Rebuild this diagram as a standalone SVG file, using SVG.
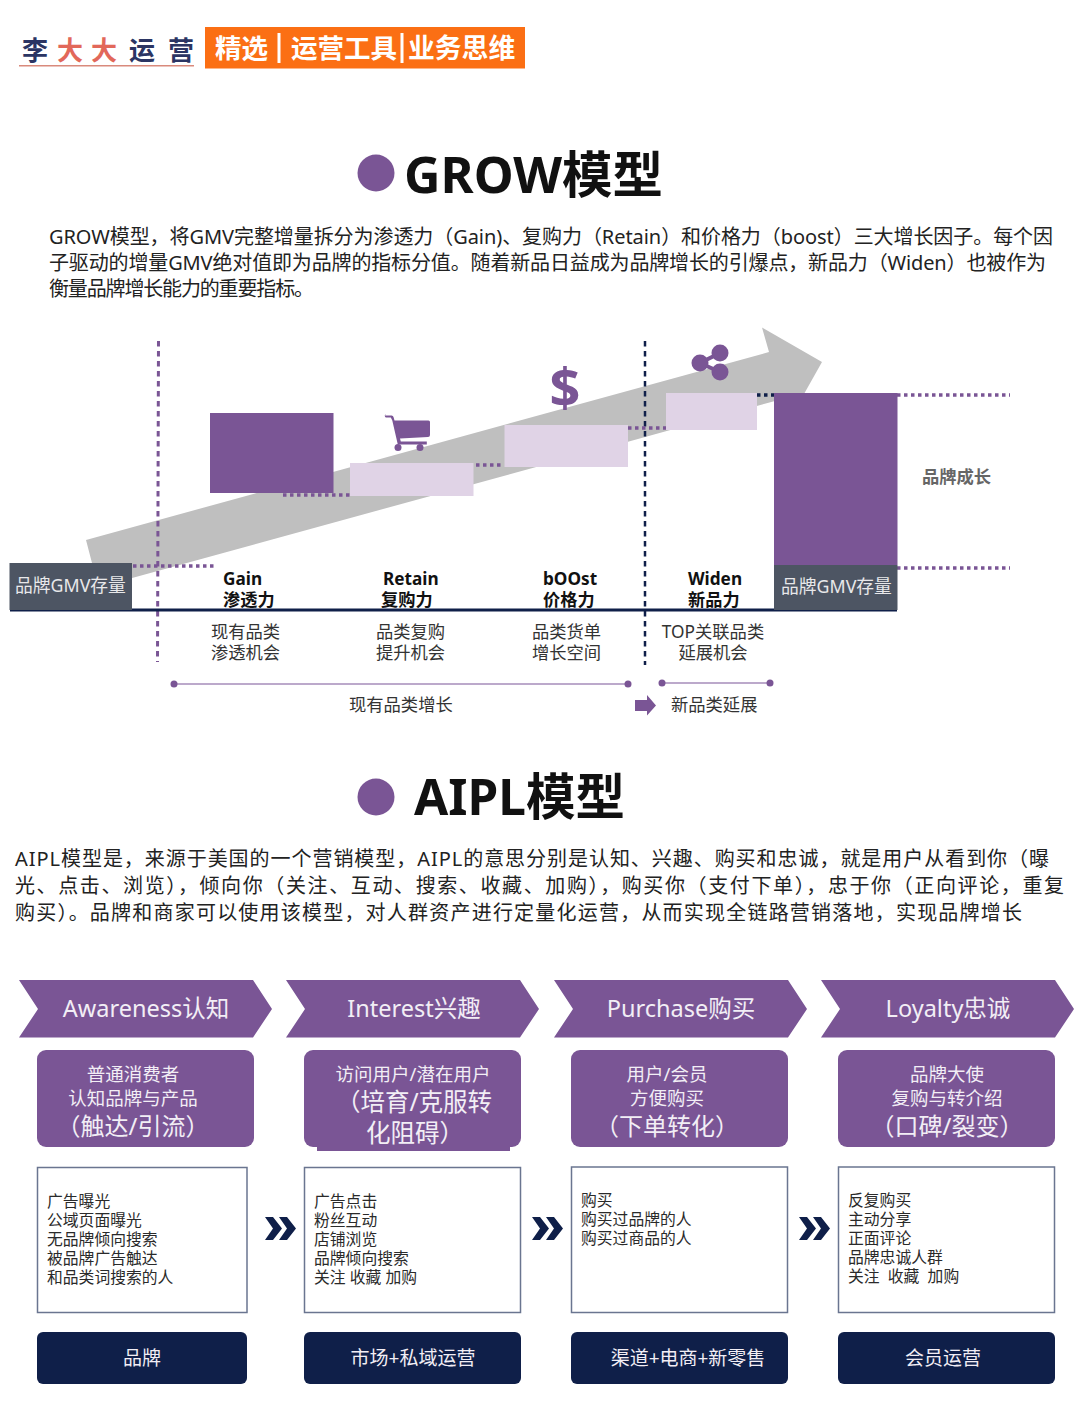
<svg xmlns="http://www.w3.org/2000/svg" width="1080" height="1426" viewBox="0 0 1080 1426">
<style>
text{font-family:"Noto Sans","Noto Sans CJK SC",sans-serif;fill:#222}
.body{font-size:20px;fill:#222}
.title{font-weight:700;fill:#111}
.dim{font-size:17.3px;fill:#333}
.bold{font-size:17.2px;font-weight:700;fill:#111}
.wh{fill:#f2eef5}
.c{text-anchor:middle}
.item{font-size:15.8px;fill:#2a2a2a}
.pu{fill:#7a5595}
.li{fill:#e0d3e6}
.navy{fill:#0f1f49}
.dot{fill:none;stroke:#7a5595;stroke-width:3.5;stroke-dasharray:3.5 3.5}
.dv{fill:none;stroke:#7a5595;stroke-width:3;stroke-dasharray:5.5 4.5}
.dn{fill:none;stroke:#0f1f49;stroke-width:2.5;stroke-dasharray:5.5 4.5}
.wb{fill:#fff;stroke:#6a7590;stroke-width:1.5}
.l1{font-size:18.5px}
.l3{font-size:24px}
.nv{font-size:19px}
.ch{font-size:23.500px}
</style>
<defs>
<polygon id="chev" points="0,0 234,0 253,29 234,57.5 0,57.5 19,29"/>
<g id="dbl"><polygon points="0,0 8,0 17,11.5 8,23 0,23 8,11.5"/><polygon points="14,0 22,0 31,11.5 22,23 14,23 22,11.5"/></g>
</defs>

<g id="header">
<text x="22" y="60" font-size="26" font-weight="700" style="fill:#2b3563">李</text>
<text x="57" y="60" font-size="26" font-weight="700" style="fill:#e2685a">大</text>
<text x="91" y="60" font-size="26" font-weight="700" style="fill:#e2685a">大</text>
<text x="129" y="60" font-size="26" font-weight="700" style="fill:#2b3563">运</text>
<text x="168" y="60" font-size="26" font-weight="700" style="fill:#2b3563">营</text>
<rect x="19" y="65" width="175" height="1.5" fill="#d98a7c"/>
<rect x="205" y="27" width="320" height="41.500" fill="#fb6f14"/>
<text x="215" y="57.500" font-size="26.500" font-weight="700" style="fill:#fff">精选</text>
<rect x="277.500" y="33" width="3" height="30" fill="#fff"/>
<text x="291" y="57.500" font-size="26.500" font-weight="700" style="fill:#fff">运营工具</text>
<rect x="400.500" y="33" width="3" height="30" fill="#fff"/>
<text x="408" y="57.500" font-size="26.800" font-weight="700" style="fill:#fff">业务思维</text>
</g>

<g id="grow-title"><circle class="pu" cx="376" cy="173" r="18.500"/><text class="title" x="404" y="193" font-size="50.500">GROW模型</text></g>
<g id="grow-text">
<text class="body" x="49" y="244" textLength="1004">GROW模型，将GMV完整增量拆分为渗透力（Gain)、复购力（Retain）和价格力（boost）三大增长因子。每个因</text>
<text class="body" x="49" y="270" textLength="997">子驱动的增量GMV绝对值即为品牌的指标分值。随着新品日益成为品牌增长的引爆点，新品力（Widen）也被作为</text>
<text class="body" x="49" y="296" textLength="265">衡量品牌增长能力的重要指标。</text>
</g>

<g id="trend-arrow"><polygon fill="#bfbfbf" points="86,540 92,563 92,589 628,441.700 775,401 795,410 822,362 762,327.500 769,352"/></g>

<g id="connectors">
<path class="dv" d="M158.500,341L157.500,662"/>
<path class="dn" d="M645,341V665"/>
<path class="dot" d="M133,566H214"/>
<path class="dot" d="M283,495H350"/>
<path class="dot" d="M476,465H504"/>
<path class="dot" d="M628,428H666"/>
<path fill="none" stroke="#0f1f49" stroke-width="3.500" stroke-dasharray="3.500 3.500" d="M757,395H774"/>
<path class="dot" d="M897,395H1010"/>
<path class="dot" d="M897,568H1010"/>
<path fill="none" stroke="#0f1f49" stroke-width="3" d="M10,610H897"/>
<path fill="none" stroke="#a78dbb" stroke-width="1.500" d="M174,684H628M662,683H770"/>
<circle class="pu" cx="174" cy="684" r="3.500"/><circle class="pu" cx="628" cy="684" r="3.500"/>
<circle class="pu" cx="662" cy="683" r="3.500"/><circle class="pu" cx="770" cy="683" r="3.500"/>
<polygon class="pu" points="635,700 647,700 647,695 656,705.500 647,715.500 647,711 635,711"/>
</g>

<g id="gmv-left"><rect x="9.500" y="563" width="122.500" height="47" fill="#4d5563"/><text x="15" y="592" font-size="17.800" style="fill:#e8e8ea">品牌GMV存量</text></g>
<g id="gain-bar"><rect class="pu" x="210" y="413" width="123.500" height="80"/></g>
<g id="retain-bar"><rect class="li" x="350" y="463" width="123.500" height="33"/></g>
<g id="boost-bar"><rect class="li" x="504.500" y="425" width="123.500" height="42"/></g>
<g id="widen-bar"><rect class="li" x="666" y="393" width="91" height="37"/></g>
<g id="gmv-right"><rect class="pu" x="774" y="393" width="123.500" height="172"/><rect x="774" y="565" width="123.500" height="45" fill="#4d5563"/><text x="781" y="593" font-size="17.800" style="fill:#e8e8ea">品牌GMV存量</text></g>

<g id="cart-icon"><path class="pu" d="M385,415.500h6.500a2,2 0 0 1 2,1.500l1,3.500h34a1.500,1.500 0 0 1 1.500,1.500v13a2,2 0 0 1-2,2l-28,1.500l.8,3h26v3h-29l-5.500,-24l-1.500,-3h-5a2,2 0 0 1 0,-3.500z"/><circle class="pu" cx="398" cy="447.500" r="3.500"/><circle class="pu" cx="420" cy="447.500" r="3.500"/></g>
<g id="dollar-icon"><text class="c" x="565" y="407" font-size="54" font-weight="700" style="fill:#7a5595">$</text></g>
<g id="share-icon"><path fill="none" stroke="#7a5595" stroke-width="4" d="M720,353L700,363L720,372"/><circle class="pu" cx="720" cy="353" r="8.500"/><circle class="pu" cx="700" cy="363" r="8.500"/><circle class="pu" cx="720" cy="372" r="8.500"/></g>

<g id="gain-label"><text class="bold" x="223" y="585">Gain</text><text class="bold" x="223" y="606">渗透力</text><text class="dim" x="211" y="638">现有品类</text><text class="dim" x="211" y="659">渗透机会</text></g>
<g id="retain-label"><text class="bold" x="383" y="585">Retain</text><text class="bold" x="381" y="606">复购力</text><text class="dim" x="376" y="638">品类复购</text><text class="dim" x="376" y="659">提升机会</text></g>
<g id="boost-label"><text class="bold" x="543" y="585">bOOst</text><text class="bold" x="543" y="606">价格力</text><text class="dim" x="532" y="638">品类货单</text><text class="dim" x="532" y="659">增长空间</text></g>
<g id="widen-label"><text class="bold" x="688" y="585">Widen</text><text class="bold" x="688" y="606">新品力</text><text class="dim c" x="713" y="638">TOP关联品类</text><text class="dim c" x="713" y="659">延展机会</text></g>
<g id="brand-growth"><text x="922" y="483" font-size="17.300" font-weight="700" style="fill:#666">品牌成长</text></g>
<g id="range-left"><text class="dim" x="349" y="711">现有品类增长</text></g>
<g id="range-right"><text class="dim" x="671" y="711">新品类延展</text></g>

<g id="aipl-title"><circle class="pu" cx="376" cy="797" r="18.500"/><text class="title" x="414" y="815" font-size="49.500">AIPL模型</text></g>
<g id="aipl-text">
<text class="body" x="15" y="866" textLength="1034">AIPL模型是，来源于美国的一个营销模型，AIPL的意思分别是认知、兴趣、购买和忠诚，就是用户从看到你（曝</text>
<text class="body" x="15" y="893" textLength="1049">光、点击、浏览），倾向你（关注、互动、搜索、收藏、加购），购买你（支付下单），忠于你（正向评论，重复</text>
<text class="body" x="15" y="920" textLength="1007">购买）。品牌和商家可以使用该模型，对人群资产进行定量化运营，从而实现全链路营销落地，实现品牌增长</text>
</g>

<g id="awareness">
<use href="#chev" x="19" y="980" class="pu"/><text class="c wh ch" x="146" y="1017">Awareness认知</text>
<rect class="pu" x="37" y="1050" width="217" height="97" rx="9"/>
<text class="c wh l1" x="133" y="1081">普通消费者</text><text class="c wh l1" x="133" y="1105">认知品牌与产品</text><text class="c wh l3" x="133" y="1135">（触达/引流）</text>
<rect class="wb" x="37.500" y="1167.500" width="209.500" height="145"/>
<text class="item" x="47" y="1207">广告曝光</text><text class="item" x="47" y="1226">公域页面曝光</text><text class="item" x="47" y="1245">无品牌倾向搜索</text><text class="item" x="47" y="1264">被品牌广告触达</text><text class="item" x="47" y="1283">和品类词搜索的人</text>
<rect class="navy" x="37" y="1332" width="210" height="52" rx="6"/><text class="c wh nv" x="142" y="1365">品牌</text>
</g>
<g id="interest">
<use href="#chev" x="286" y="980" class="pu"/><text class="c wh ch" x="414" y="1017">Interest兴趣</text>
<rect class="pu" x="304" y="1050" width="217" height="97" rx="9"/><rect class="pu" x="317" y="1140" width="193" height="11"/>
<text class="c wh l1" x="413" y="1081">访问用户/潜在用户</text><text class="wh" x="336" y="1111" font-size="24.500">（培育/克服转</text><text class="wh" x="366" y="1142" font-size="24.500">化阻碍）</text>
<rect class="wb" x="304.500" y="1167.500" width="216" height="145"/>
<text class="item" x="314" y="1207">广告点击</text><text class="item" x="314" y="1226">粉丝互动</text><text class="item" x="314" y="1245">店铺浏览</text><text class="item" x="314" y="1264">品牌倾向搜索</text><text class="item" x="314" y="1283">关注 收藏 加购</text>
<rect class="navy" x="304" y="1332" width="217" height="52" rx="6"/><text class="c wh nv" x="413" y="1365">市场+私域运营</text>
</g>
<g id="purchase">
<use href="#chev" x="554" y="980" class="pu"/><text class="c wh ch" x="681" y="1017">Purchase购买</text>
<rect class="pu" x="571" y="1050" width="217" height="97" rx="9"/>
<text class="c wh l1" x="667" y="1081">用户/会员</text><text class="c wh l1" x="667" y="1105">方便购买</text><text class="c wh l3" x="667" y="1135">（下单转化）</text>
<rect class="wb" x="571.500" y="1167" width="216" height="145.500"/>
<text class="item" x="581" y="1206">购买</text><text class="item" x="581" y="1225">购买过品牌的人</text><text class="item" x="581" y="1244">购买过商品的人</text>
<rect class="navy" x="571" y="1332" width="217" height="52" rx="6"/><text class="c wh nv" x="688" y="1365">渠道+电商+新零售</text>
</g>
<g id="loyalty">
<use href="#chev" x="821" y="980" class="pu"/><text class="c wh ch" x="948" y="1017">Loyalty忠诚</text>
<rect class="pu" x="838" y="1050" width="217" height="97" rx="9"/>
<text class="c wh l1" x="947" y="1081">品牌大使</text><text class="c wh l1" x="947" y="1105">复购与转介绍</text><text class="c wh l3" x="947" y="1135">（口碑/裂变）</text>
<rect class="wb" x="838.500" y="1167" width="216" height="145.500"/>
<text class="item" x="848" y="1206">反复购买</text><text class="item" x="848" y="1225">主动分享</text><text class="item" x="848" y="1244">正面评论</text><text class="item" x="848" y="1263">品牌忠诚人群</text><text class="item" x="848" y="1282" xml:space="preserve">关注  收藏  加购</text>
<rect class="navy" x="838" y="1332" width="217" height="52" rx="6"/><text class="c wh nv" x="943" y="1365">会员运营</text>
</g>
<g id="flow-arrows" class="navy">
<use href="#dbl" x="265" y="1217"/><use href="#dbl" x="532" y="1217"/><use href="#dbl" x="799" y="1217"/>
</g>
</svg>
